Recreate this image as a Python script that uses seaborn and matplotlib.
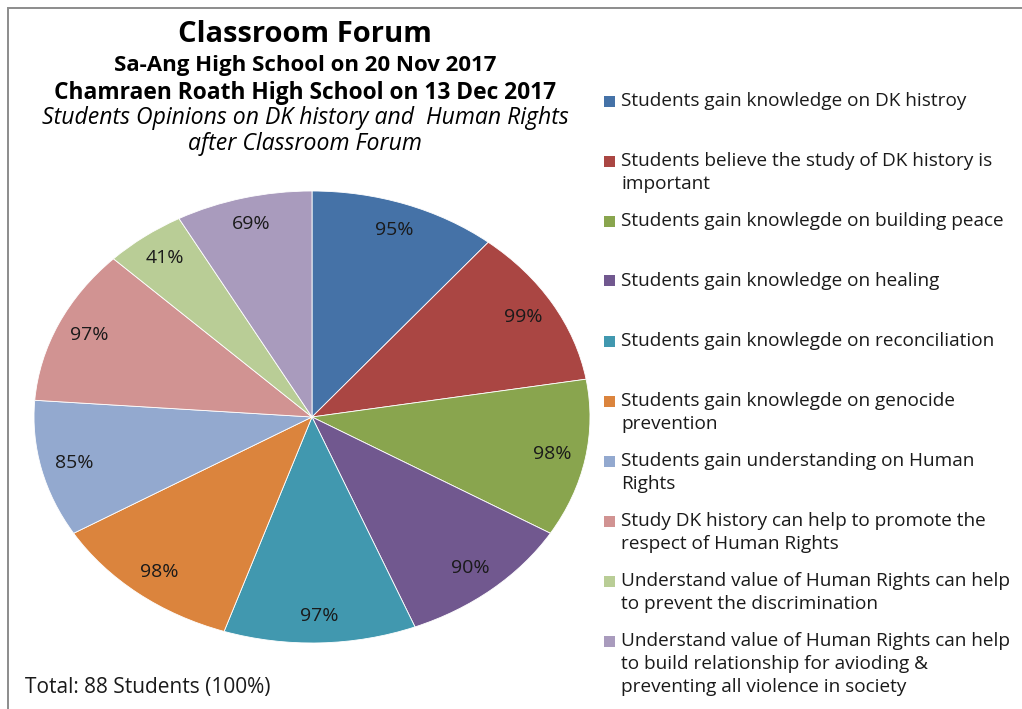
import numpy as np
import matplotlib
matplotlib.use("Agg")
import matplotlib.pyplot as plt
from matplotlib.patches import Rectangle
import seaborn as sns

# ---- data ----
categories = [
    "Students gain knowledge on DK histroy",
    "Students believe the study of DK history is\nimportant",
    "Students gain knowlegde on building peace",
    "Students gain knowledge on healing",
    "Students gain knowlegde on reconciliation",
    "Students gain knowlegde on genocide\nprevention",
    "Students gain understanding on Human\nRights",
    "Study DK history can help to promote the\nrespect of Human Rights",
    "Understand value of Human Rights can help\nto prevent the discrimination",
    "Understand value of Human Rights can help\nto build relationship for avioding &\npreventing all violence in society",
]
percents = [95, 99, 98, 90, 97, 98, 85, 97, 41, 69]
slice_colors = ["#4572A7", "#AA4643", "#89A54E", "#71588F", "#4198AF",
                "#DB843D", "#93A9CF", "#D19392", "#B9CD96", "#A99BBD"]

title_lines = [
    ("Classroom Forum", "bold", "normal", 21),
    ("Sa-Ang High School on 20 Nov 2017", "bold", "normal", 16),
    ("Chamraen Roath High School on 13 Dec 2017", "bold", "normal", 16.4),
    ("Students Opinions on DK history and  Human Rights", "normal", "italic", 16.6),
    ("after Classroom Forum", "normal", "italic", 16.6),
]
total_note = "Total: 88 Students (100%)"

sns.set_theme(style="white")
plt.rcParams["font.family"] = ["Open Sans", "DejaVu Sans"]
palette = sns.color_palette(slice_colors)

W, H = 1022, 709
fig = plt.figure(figsize=(W / 100, H / 100), dpi=100)
fig.patch.set_facecolor("white")

# chart area border (top and left edges visible)
fig.patches.append(Rectangle((8 / W, -0.05), 1.2, 1 - 8 / H + 0.05,
                             transform=fig.transFigure, fill=False,
                             edgecolor="#8c8c8c", linewidth=1.4))

# pie is stretched into an ellipse like the original
ax = fig.add_axes([34 / W, 1 - 643 / H, 556 / W, 452 / H])
wedges, _, autotexts = ax.pie(
    percents, colors=palette, startangle=90, counterclock=False,
    autopct=lambda p: "", pctdistance=0.88,
    wedgeprops=dict(edgecolor="white", linewidth=0.6),
)
for t, v in zip(autotexts, percents):
    t.set_text(f"{v}%")
    t.set_fontsize(14)
    t.set_color("#1a1a1a")
ax.set_aspect("auto")
ax.set_xlim(-1, 1)
ax.set_ylim(-1, 1)
ax.axis("off")

# titles
ys = [34, 65, 93, 118, 144]
for (txt, w, st, fs), y in zip(title_lines, ys):
    fig.text(305 / W, 1 - y / H, txt, ha="center", va="center",
             fontweight=w, fontstyle=st, fontsize=fs, color="black")

# legend, one 60px slot per entry
for i, (lab, col) in enumerate(zip(categories, palette)):
    y = 101 + 60 * i
    fig.patches.append(Rectangle((604 / W, 1 - (y + 5.5) / H), 11 / W, 11 / H,
                                 transform=fig.transFigure, facecolor=col,
                                 edgecolor="none"))
    fig.text(621 / W, 1 - (y - 9) / H, lab, ha="left", va="top",
             fontsize=13.7, color="#1a1a1a", linespacing=1.34)

fig.text(25 / W, 1 - 688 / H, total_note, ha="left", va="center",
         fontsize=15, color="#1a1a1a")

fig.savefig("out.png", dpi=100)
